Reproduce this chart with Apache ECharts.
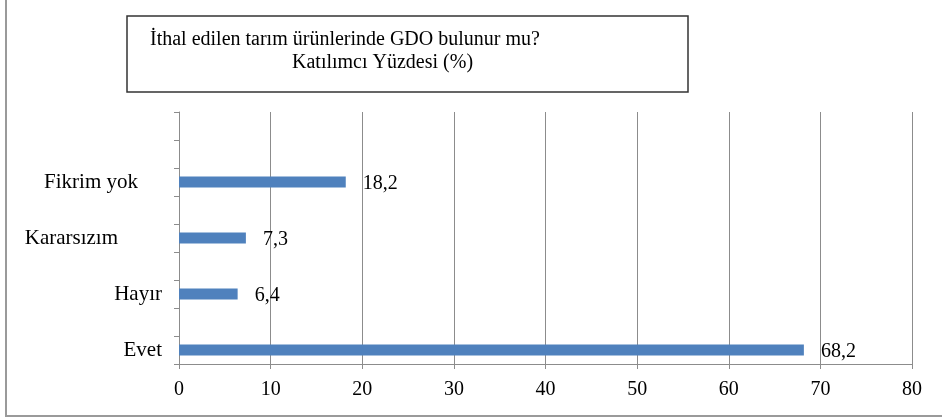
<!DOCTYPE html>
<html>
<head>
<meta charset="utf-8">
<script src="https://cdn.jsdelivr.net/npm/echarts@6/dist/echarts.min.js"></script>
<style>
  html, body { margin: 0; padding: 0; background: #fff; }
  #chart { width: 942px; height: 419px; }
</style>
</head>
<body>
<div id="chart"></div>
<script>
// answer categories, bottom to top (empty slots keep the original spacing)
const categories = ['Evet', '', 'Hayır', '', 'Kararsızım', '', 'Fikrim yok', '', ''];
const percentages = [68.2, null, 6.4, null, 7.3, null, 18.2, null, null];
const xTicks = [0, 10, 20, 30, 40, 50, 60, 70, 80];

const titleLine1 = 'İthal edilen tarım ürünlerinde GDO bulunur mu?';
const titleLine2 = 'Katılımcı Yüzdesi (%)';

// labels in the source are not right aligned, nudge a couple of them
const labelPad = { 'Kararsızım': 44, 'Fikrim yok': 24 };

const font = 'Liberation Serif';
const gridColor = '#8c8c8c';
const fs = 20;

const chart = echarts.init(document.getElementById('chart'));

const option = {
  animation: false,
  textStyle: { fontFamily: font, color: '#000' },
  graphic: [
    {
      type: 'rect',
      shape: { x: 6, y: -10, width: 1000, height: 426 },
      style: { fill: 'none', stroke: '#9a9a9a', lineWidth: 2 },
      silent: true
    },
    {
      type: 'rect',
      shape: { x: 127, y: 16, width: 561, height: 76 },
      style: { fill: 'none', stroke: '#333', lineWidth: 1.5 },
      silent: true
    },
    {
      type: 'text',
      x: 150, y: 40,
      style: { text: titleLine1, fontFamily: font, fontSize: 20, fill: '#000', verticalAlign: 'middle' }
    },
    {
      type: 'text',
      x: 292, y: 63,
      style: { text: titleLine2, fontFamily: font, fontSize: 20, fill: '#000', verticalAlign: 'middle' }
    }
  ],
  grid: { left: 179, right: 30, top: 112, bottom: 55 },
  xAxis: {
    type: 'value',
    min: 0,
    max: 80,
    interval: 10,
    axisLine: { show: true, lineStyle: { color: gridColor, width: 1 } },
    axisTick: { show: true, length: 5, lineStyle: { color: gridColor } },
    splitLine: { show: true, lineStyle: { color: gridColor, width: 1 } },
    axisLabel: {
      margin: 16,
      fontSize: fs,
      fontFamily: font,
      color: '#000',
      formatter: v => xTicks.includes(v) ? String(v) : ''
    }
  },
  yAxis: {
    type: 'category',
    data: categories,
    axisLine: { show: true, lineStyle: { color: gridColor, width: 1 } },
    axisTick: { show: true, length: 5, lineStyle: { color: gridColor } },
    axisLabel: {
      interval: 0,
      margin: 17,
      fontSize: 21,
      fontFamily: font,
      color: '#000',
      formatter: v => {
        if (!v) return '';
        return labelPad[v] ? '{p' + labelPad[v] + '|' + v + '}' : '{p0|' + v + '}';
      },
      rich: {
        p0: { fontSize: 21, fontFamily: font, color: '#000' },
        p44: { fontSize: 21, fontFamily: font, color: '#000', padding: [0, 44, 0, 0] },
        p24: { fontSize: 21, fontFamily: font, color: '#000', padding: [0, 24, 0, 0] }
      }
    }
  },
  series: [{
    type: 'bar',
    data: percentages,
    barWidth: 11,
    itemStyle: { color: '#4f81bd' },
    label: {
      show: true,
      position: 'right',
      distance: 17,
      fontSize: 20,
      fontFamily: font,
      color: '#000',
      offset: [0, 2],
      formatter: p => p.value == null ? '' : String(p.value).replace('.', ',')
    }
  }]
};

chart.setOption(option);
</script>
</body>
</html>
